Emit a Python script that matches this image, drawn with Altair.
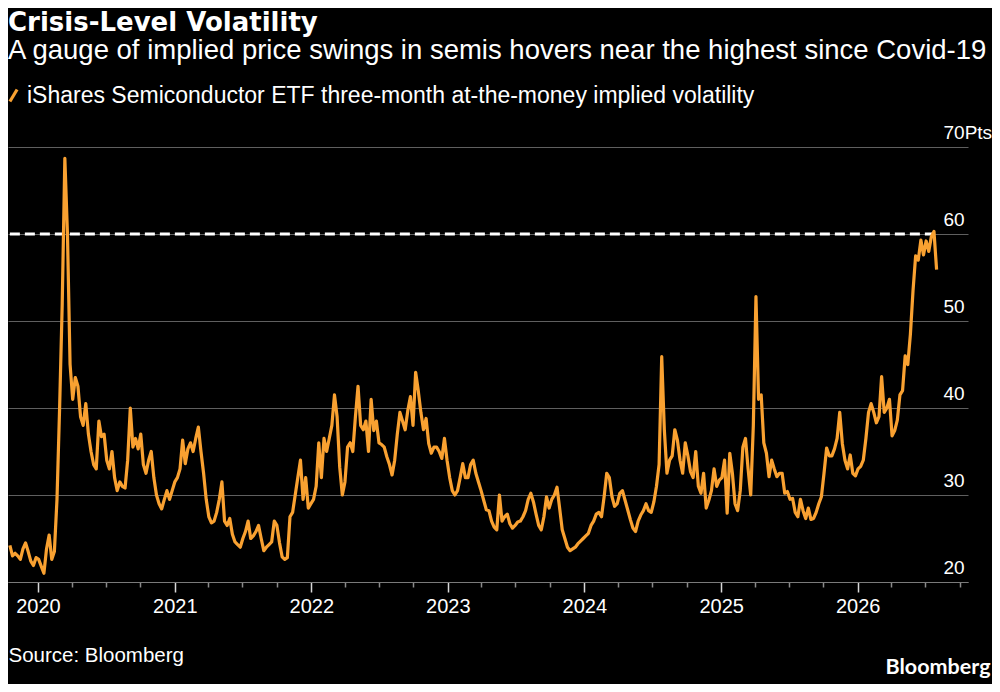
import altair as alt
import pandas as pd

# ---- data (weekly samples) ----
start_date = "2019-10-18"
implied_vol = [
    24.2, 23.0, 23.3, 23.0, 22.6, 23.8, 24.5, 23.5, 22.4, 21.9,
    22.8, 22.6, 21.8, 21.0, 23.8, 25.4, 22.6, 23.5, 29.5, 40.0,
    52.0, 68.7, 60.0, 45.0, 41.0, 43.5, 42.5, 39.0, 38.0, 40.5,
    37.0, 35.0, 33.5, 33.0, 38.5, 36.7, 37.0, 34.0, 33.0, 35.0,
    32.0, 30.5, 31.5, 31.0, 30.8, 34.0, 40.0, 35.5, 36.5, 35.3,
    37.0, 33.5, 32.5, 34.0, 35.0, 32.0, 30.0, 29.0, 28.4, 29.5,
    30.5, 29.5, 30.5, 31.5, 32.0, 33.0, 36.3, 33.6, 35.3, 36.0,
    35.0, 36.5, 37.8, 35.0, 32.5, 29.5, 27.5, 26.8, 27.0, 28.0,
    29.5, 31.5, 27.0, 26.5, 27.3, 25.5, 24.6, 24.3, 24.0, 25.0,
    25.8, 27.0, 25.0, 25.3, 25.8, 26.5, 25.0, 23.6, 24.0, 24.3,
    24.6, 27.0, 26.5, 24.5, 22.9, 22.6, 22.8, 27.5, 28.0, 30.0,
    32.0, 34.0, 29.5, 32.0, 28.5, 29.0, 29.5, 31.0, 36.0, 32.0,
    36.5, 35.0, 36.5, 38.0, 41.5, 39.0, 33.2, 30.0, 31.5, 35.5,
    36.0, 35.0, 39.0, 42.5, 38.0, 37.5, 38.5, 35.0, 41.0, 37.4,
    38.5, 36.0, 35.8, 35.5, 34.4, 33.5, 32.3, 34.0, 37.0, 39.5,
    38.5, 37.5, 39.7, 41.3, 38.0, 44.1, 42.0, 39.5, 37.5, 38.8,
    35.9, 34.8, 35.5, 35.5, 35.0, 34.2, 36.5, 34.0, 32.0, 30.5,
    30.0, 30.5, 32.0, 33.6, 32.0, 32.0, 33.5, 34.0, 32.5, 31.5,
    30.5, 29.4, 28.3, 28.2, 27.0, 26.3, 26.0, 30.0, 27.0, 27.5,
    27.8, 26.7, 26.2, 26.5, 26.9, 27.0, 27.5, 28.2, 29.5, 30.2,
    29.2, 27.8, 26.5, 26.0, 27.5, 29.8, 28.5, 29.5, 30.0, 30.9,
    28.5, 26.0, 25.0, 24.0, 23.6, 23.8, 24.0, 24.4, 24.7, 25.0,
    25.3, 25.6, 26.5, 27.0, 27.8, 28.0, 27.5, 29.8, 32.5, 32.0,
    29.8, 28.7, 29.0, 30.2, 30.5, 29.4, 28.3, 27.2, 26.2, 25.8,
    27.0, 27.7, 28.2, 29.0, 28.2, 28.0, 29.2, 31.0, 33.5, 45.9,
    37.5, 32.5, 34.0, 34.5, 37.5, 36.3, 34.0, 32.5, 36.0, 34.5,
    32.7, 32.0, 35.0, 31.0, 30.2, 32.5, 28.5, 29.4, 30.5, 33.0,
    31.0, 31.7, 32.0, 34.0, 27.9, 34.8, 32.5, 29.0, 28.2, 30.5,
    35.5, 36.5, 33.0, 30.0, 38.0, 52.8, 41.0, 41.5, 36.0, 34.8,
    32.1, 34.0, 33.0, 32.1, 32.5, 32.5, 30.2, 30.4, 29.5, 29.6,
    28.0, 27.5, 29.5, 28.2, 27.3, 28.5, 27.2, 27.3, 28.0, 29.0,
    29.8, 32.5, 35.4, 34.5, 34.5, 35.3, 36.5, 39.5, 35.9, 34.0,
    33.0, 34.6, 32.5, 32.2, 33.0, 33.3, 34.0, 36.5, 39.5, 40.5,
    39.5, 38.3, 39.0, 43.6, 39.5, 40.0, 41.0, 36.8, 37.4, 38.6,
    41.5, 42.0, 46.0, 45.0, 48.5, 53.5, 57.5, 57.0, 59.3, 57.6,
    59.2, 58.0, 59.7, 60.3, 55.9,
]
series_name = "iShares Semiconductor ETF three-month at-the-money implied volatility"
y_ticks = [20, 30, 40, 50, 60, 70]
threshold = 60

title_text = "Crisis-Level Volatility"
subtitle_text = "A gauge of implied price swings in semis hovers near the highest since Covid-19"
source_text = "Source: Bloomberg"
brand_text = "Bloomberg"

dates = pd.date_range(start_date, periods=len(implied_vol), freq="7D")
df = pd.DataFrame({
    "date": dates.strftime("%Y-%m-%d"),
    "vol": implied_vol,
    "series": series_name,
})
ref = pd.DataFrame({
    "date": [df["date"].iloc[0]],
    "end": [df["date"].iloc[-1]],
    "vol": [threshold],
})

FONT = "Liberation Sans"
ORANGE = "#F9A131"
GRID = "#5f5f5f"

x_scale = alt.Scale(
    type="utc",
    domain=[alt.DateTime(year=2019, month=10, date=13, utc=True),
            alt.DateTime(year=2026, month=10, date=23, utc=True)],
)
y_scale = alt.Scale(domain=[20, 70], nice=False, zero=False)

is_year = "utcFormat(datum.value, '%m') == '01'"

x_axis = alt.Axis(
    title=source_text, titleX=0, titleY=79, titleAlign="left", titleAnchor="start",
    titleBaseline="alphabetic", titleFont=FONT, titleFontSize=20.5,
    titleFontWeight="normal", titleColor="white",
    tickCount={"interval": "month", "step": 3},
    labelExpr=f"{is_year} ? utcFormat(datum.value, '%Y') : ''",
    tickSize={"condition": {"test": is_year, "value": 10}, "value": 5},
    tickColor={"condition": {"test": is_year, "value": "#d8d8d8"}, "value": "#8a8a8a"},
    tickWidth=1.5,
    domainColor="#7a7a7a", domainWidth=1.2, grid=False,
    labelFont=FONT, labelFontSize=20, labelColor="white", labelPadding=4,
    labelFlush=False, labelOverlap=False,
)

y_axis = alt.Axis(
    orient="right", values=y_ticks,
    title=brand_text, titleAngle=0, titleX=22, titleY=526, titleAlign="right",
    titleBaseline="alphabetic", titleFont="Lato", titleFontWeight="bold",
    titleFontSize=21.5, titleColor="white",
    labelExpr="datum.value == 70 ? '70Pts' : datum.label",
    labelAlign="left", labelPadding=-25, labelBaseline="alphabetic", labelOffset=-9,
    ticks=False, domain=False, grid=True, gridColor=GRID, gridWidth=1.2,
    labelFont=FONT, labelFontSize=19, labelColor="white",
)

rule = alt.Chart(ref).mark_rule(color="white", strokeWidth=3, strokeDash=[10, 5]).encode(
    x=alt.X("date:T", scale=x_scale, axis=x_axis),
    x2="end:T",
    y=alt.Y("vol:Q", scale=y_scale, axis=y_axis),
)

line = alt.Chart(df).mark_line(strokeWidth=3.2, strokeJoin="round").encode(
    x=alt.X("date:T", scale=x_scale, axis=x_axis),
    y=alt.Y("vol:Q", scale=y_scale, axis=y_axis),
    color=alt.Color(
        "series:N",
        scale=alt.Scale(range=[ORANGE]),
        legend=alt.Legend(
            title=None, orient="none", legendX=-6, legendY=-63,
            symbolType="M-0.9,1.5L0.9,-1.5", symbolSize=64, symbolStrokeWidth=3.2,
            labelFont=FONT, labelFontSize=23, labelColor="white", labelOffset=2,
            labelLimit=1000, padding=0,
        ),
    ),
)

chart = alt.layer(rule, line).properties(
    width=960,
    height=435,
    background="black",
    padding={"left": 0, "top": 139, "right": 24, "bottom": 102},
    autosize=alt.AutoSizeParams(type="none"),
    title=alt.TitleParams(
        text=title_text, subtitle=subtitle_text, anchor="start", frame="group",
        orient="top", font="DejaVu Sans", fontSize=26, fontWeight="bold", color="white",
        subtitleFont=FONT, subtitleFontSize=27.5, subtitleColor="white",
        subtitlePadding=1.5, offset=19.5,
    ),
).configure_view(stroke=None)

chart.save("out.html", embed_options={"renderer": "svg", "actions": False})
